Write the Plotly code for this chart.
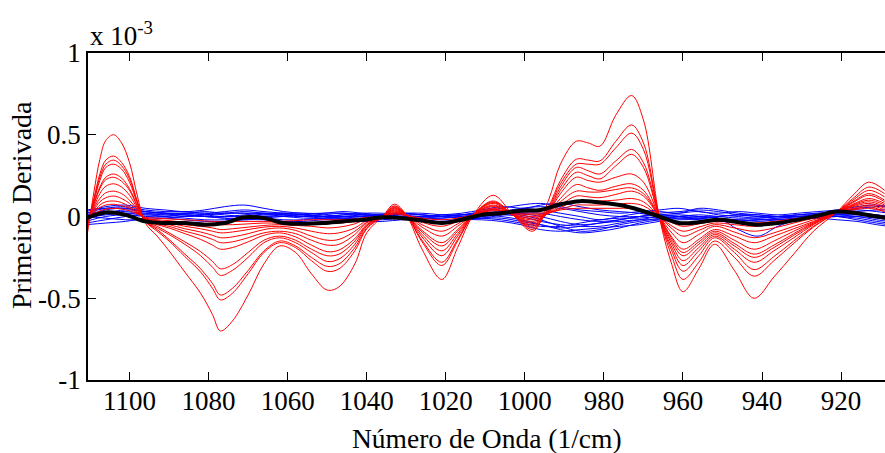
import plotly.graph_objects as go

# wavenumber grid for red curves (1/cm)
x_red = [1111, 1109, 1107.5, 1106, 1104, 1102, 1100, 1098, 1096, 1093, 1090, 1086, 1082, 1079, 1077,
         1074, 1070, 1066, 1062, 1058, 1054, 1050, 1047, 1043, 1040, 1036, 1033, 1030, 1026, 1021,
         1017, 1013, 1008, 1003, 998, 994, 991, 987, 984, 981, 977, 973, 970, 966, 963, 960, 956,
         952, 947, 942, 937, 932, 927, 921, 917, 913, 909]

red_1 = [-0.16, 0.15, 0.35, 0.465, 0.50, 0.45, 0.33, 0.125, -0.04, -0.12, -0.21, -0.34, -0.47, -0.60, -0.70,
         -0.64, -0.48, -0.29, -0.18, -0.22, -0.35, -0.45, -0.43, -0.29, -0.10, 0.0, 0.075, 0.01, -0.20, -0.385,
         -0.19, 0.01, 0.13, 0.01, -0.09, 0.10, 0.32, 0.46, 0.45, 0.43, 0.62, 0.74, 0.59, 0.0, -0.28, -0.46, -0.32,
         -0.17, -0.33, -0.50, -0.37, -0.23, -0.09, 0.03, 0.13, 0.21, 0.16]
red_2 = [-0.10, 0.11, 0.26, 0.345, 0.37, 0.33, 0.245, 0.09, -0.03, -0.09, -0.15, -0.245, -0.34, -0.44, -0.51,
         -0.47, -0.35, -0.22, -0.16, -0.19, -0.27, -0.335, -0.32, -0.21, -0.075, 0.0, 0.065, 0.01, -0.155, -0.30,
         -0.15, 0.01, 0.095, 0.01, -0.08, 0.06, 0.22, 0.35, 0.345, 0.34, 0.46, 0.56, 0.45, 0.0, -0.23, -0.385, -0.28,
         -0.15, -0.25, -0.365, -0.27, -0.165, -0.065, 0.03, 0.11, 0.18, 0.14]
red_3 = [-0.08, 0.10, 0.24, 0.32, 0.345, 0.31, 0.23, 0.085, -0.03, -0.08, -0.14, -0.23, -0.32, -0.41, -0.48,
         -0.44, -0.33, -0.21, -0.15, -0.18, -0.25, -0.305, -0.29, -0.19, -0.07, 0.0, 0.06, 0.01, -0.145, -0.28,
         -0.14, 0.01, 0.09, 0.01, -0.07, 0.05, 0.20, 0.32, 0.32, 0.32, 0.42, 0.51, 0.41, 0.0, -0.20, -0.335, -0.24,
         -0.13, -0.22, -0.325, -0.245, -0.15, -0.06, 0.03, 0.10, 0.16, 0.12]
red_4 = [-0.07, 0.095, 0.22, 0.30, 0.32, 0.29, 0.21, 0.08, -0.03, -0.07, -0.11, -0.17, -0.24, -0.31, -0.36,
         -0.33, -0.25, -0.16, -0.13, -0.16, -0.22, -0.275, -0.26, -0.17, -0.06, 0.0, 0.055, 0.01, -0.125, -0.24,
         -0.12, 0.01, 0.085, 0.01, -0.06, 0.04, 0.18, 0.30, 0.28, 0.26, 0.34, 0.41, 0.33, 0.0, -0.18, -0.30, -0.21,
         -0.12, -0.20, -0.28, -0.21, -0.13, -0.05, 0.03, 0.09, 0.14, 0.10]
red_5 = [-0.06, 0.08, 0.18, 0.24, 0.26, 0.235, 0.17, 0.065, -0.03, -0.06, -0.10, -0.155, -0.215, -0.275, -0.32,
         -0.295, -0.22, -0.145, -0.12, -0.145, -0.20, -0.24, -0.23, -0.15, -0.055, 0.0, 0.05, 0.01, -0.11, -0.21,
         -0.105, 0.01, 0.08, 0.01, -0.05, 0.035, 0.16, 0.27, 0.25, 0.23, 0.31, 0.38, 0.30, 0.0, -0.16, -0.27, -0.19,
         -0.11, -0.18, -0.25, -0.19, -0.115, -0.045, 0.03, 0.085, 0.13, 0.09]
red_6 = [-0.05, 0.075, 0.17, 0.225, 0.24, 0.215, 0.16, 0.06, -0.025, -0.05, -0.07, -0.105, -0.14, -0.175, -0.20,
         -0.19, -0.155, -0.115, -0.10, -0.125, -0.175, -0.215, -0.205, -0.135, -0.05, 0.0, 0.045, 0.01, -0.095, -0.18,
         -0.09, 0.01, 0.07, 0.01, -0.04, 0.03, 0.14, 0.24, 0.22, 0.21, 0.24, 0.26, 0.21, 0.0, -0.145, -0.24, -0.17,
         -0.10, -0.165, -0.23, -0.175, -0.105, -0.04, 0.03, 0.075, 0.11, 0.08]
red_7 = [-0.05, 0.06, 0.14, 0.185, 0.20, 0.18, 0.13, 0.05, -0.02, -0.045, -0.06, -0.09, -0.115, -0.14, -0.16,
         -0.155, -0.13, -0.10, -0.09, -0.105, -0.145, -0.175, -0.17, -0.11, -0.04, 0.0, 0.04, 0.01, -0.085, -0.16,
         -0.08, 0.01, 0.065, 0.01, -0.03, 0.025, 0.11, 0.195, 0.175, 0.16, 0.185, 0.20, 0.16, 0.0, -0.13, -0.22, -0.155,
         -0.09, -0.145, -0.20, -0.15, -0.09, -0.035, 0.03, 0.07, 0.10, 0.07]
red_8 = [-0.04, 0.05, 0.11, 0.145, 0.155, 0.14, 0.10, 0.04, -0.02, -0.04, -0.05, -0.075, -0.095, -0.115, -0.13,
         -0.125, -0.105, -0.08, -0.07, -0.085, -0.12, -0.145, -0.14, -0.09, -0.035, 0.0, 0.035, 0.01, -0.065, -0.12,
         -0.06, 0.01, 0.06, 0.01, -0.02, 0.02, 0.09, 0.155, 0.15, 0.15, 0.165, 0.175, 0.14, 0.0, -0.12, -0.20, -0.14,
         -0.08, -0.12, -0.16, -0.12, -0.075, -0.03, 0.03, 0.065, 0.09, 0.06]
red_9 = [-0.03, 0.04, 0.09, 0.115, 0.125, 0.11, 0.08, 0.03, -0.015, -0.03, -0.04, -0.06, -0.075, -0.09, -0.10,
         -0.095, -0.08, -0.065, -0.06, -0.07, -0.09, -0.105, -0.10, -0.07, -0.025, 0.0, 0.03, 0.01, -0.05, -0.09,
         -0.045, 0.01, 0.05, 0.01, -0.01, 0.02, 0.07, 0.125, 0.12, 0.115, 0.135, 0.155, 0.125, 0.0, -0.095, -0.16, -0.11,
         -0.06, -0.095, -0.13, -0.10, -0.06, -0.02, 0.03, 0.06, 0.08, 0.05]
red_10 = [-0.02, 0.03, 0.07, 0.09, 0.095, 0.085, 0.06, 0.025, -0.01, -0.025, -0.035, -0.05, -0.06, -0.07, -0.08,
          -0.075, -0.065, -0.055, -0.05, -0.055, -0.06, -0.07, -0.065, -0.045, -0.015, 0.0, 0.025, 0.01, -0.035, -0.06,
          -0.03, 0.01, 0.045, 0.015, 0.0, 0.02, 0.055, 0.095, 0.095, 0.095, 0.10, 0.11, 0.09, 0.0, -0.07, -0.12, -0.085,
          -0.05, -0.07, -0.09, -0.07, -0.04, -0.01, 0.03, 0.05, 0.07, 0.04]
red_11 = [-0.02, 0.025, 0.055, 0.07, 0.075, 0.065, 0.05, 0.02, -0.01, -0.02, -0.025, -0.035, -0.04, -0.045, -0.05,
          -0.05, -0.045, -0.04, -0.04, -0.04, -0.04, -0.04, -0.04, -0.03, -0.01, 0.0, 0.02, 0.01, -0.02, -0.04,
          -0.02, 0.01, 0.04, 0.02, 0.01, 0.02, 0.045, 0.07, 0.07, 0.07, 0.075, 0.08, 0.065, 0.0, -0.055, -0.09, -0.065,
          -0.04, -0.05, -0.06, -0.045, -0.025, 0.0, 0.03, 0.045, 0.06, 0.03]
red_12 = [-0.01, 0.015, 0.035, 0.045, 0.05, 0.045, 0.035, 0.015, -0.005, -0.01, -0.015, -0.02, -0.025, -0.03, -0.03,
          -0.03, -0.03, -0.03, -0.03, -0.025, -0.02, -0.02, -0.02, -0.015, -0.005, 0.0, 0.015, 0.005, -0.01, -0.02,
          -0.01, 0.01, 0.035, 0.025, 0.02, 0.025, 0.04, 0.05, 0.05, 0.05, 0.05, 0.05, 0.04, 0.0, -0.035, -0.06, -0.045,
          -0.03, -0.035, -0.04, -0.03, -0.015, 0.0, 0.03, 0.04, 0.05, 0.03]

# wavenumber grid for blue curves and the mean (black)
x_blue = [1111, 1106, 1101, 1096, 1091, 1086, 1081, 1076, 1071, 1066, 1061, 1056, 1051, 1046, 1041, 1036,
          1031, 1026, 1021, 1016, 1011, 1006, 1001, 996, 991, 986, 981, 976, 971, 966, 961, 956, 951,
          946, 941, 936, 931, 926, 921, 916, 911, 908]

blue_1 = [0.03, 0.06, 0.07, 0.05, 0.04, 0.03, 0.04, 0.06, 0.07, 0.05, 0.03, 0.02, 0.02, 0.03, 0.02, 0.01, 0.02,
          0.01, 0.0, 0.01, 0.03, 0.05, 0.07, 0.08, 0.06, 0.04, 0.03, 0.02, 0.03, 0.04, 0.05, 0.03, 0.02, 0.03,
          0.02, 0.01, 0.02, 0.03, 0.04, 0.06, 0.07, 0.05]
blue_2 = [0.02, 0.05, 0.06, 0.04, 0.03, 0.03, 0.02, 0.03, 0.04, 0.03, 0.02, 0.01, 0.0, 0.01, 0.02, 0.02, 0.01,
          0.0, 0.01, 0.02, 0.04, 0.06, 0.05, 0.04, 0.02, 0.0, -0.02, 0.0, 0.02, 0.03, 0.02, 0.05, 0.04, 0.02,
          0.01, 0.0, 0.01, 0.02, 0.02, 0.03, 0.04, 0.04]
blue_3 = [0.0, 0.04, 0.05, 0.03, 0.02, 0.02, 0.03, 0.02, 0.02, 0.01, 0.01, 0.0, 0.01, 0.02, 0.01, 0.0, 0.0,
          -0.01, -0.01, 0.0, 0.02, 0.03, 0.02, 0.0, -0.03, -0.05, -0.04, -0.02, 0.0, 0.01, 0.02, 0.03, 0.01,
          0.0, -0.01, 0.0, 0.0, 0.01, 0.02, 0.02, 0.01, 0.0]
blue_4 = [-0.02, 0.02, 0.04, 0.03, 0.02, 0.01, 0.01, 0.02, 0.03, 0.02, 0.01, 0.01, 0.02, 0.02, 0.01, 0.0, -0.01,
          -0.01, 0.0, 0.01, 0.02, 0.02, 0.01, -0.02, -0.06, -0.09, -0.08, -0.05, -0.03, -0.01, 0.0, 0.01, 0.0,
          -0.01, -0.01, 0.0, 0.01, 0.01, 0.01, 0.0, -0.02, -0.03]
blue_5 = [0.01, 0.03, 0.03, 0.02, 0.01, 0.02, 0.02, 0.01, 0.0, 0.0, 0.01, 0.01, 0.0, 0.0, 0.01, 0.01, 0.0,
          0.0, 0.01, 0.01, 0.01, 0.0, -0.02, -0.05, -0.08, -0.10, -0.09, -0.07, -0.04, -0.02, 0.0, 0.0, -0.01,
          -0.08, -0.12, -0.06, -0.02, 0.0, 0.01, 0.01, 0.0, -0.01]
blue_6 = [-0.03, 0.0, 0.01, 0.0, 0.0, 0.01, 0.0, -0.01, -0.01, 0.0, 0.0, -0.01, -0.01, 0.0, 0.0, -0.01, -0.01,
          0.0, 0.0, -0.01, 0.0, 0.01, 0.0, -0.03, -0.05, -0.06, -0.06, -0.04, -0.02, 0.0, 0.01, 0.0, -0.01,
          -0.02, -0.02, -0.01, 0.0, 0.0, 0.0, -0.01, -0.03, -0.04]
blue_7 = [-0.04, -0.02, 0.0, 0.01, 0.0, -0.01, -0.02, -0.02, -0.01, -0.01, -0.02, -0.02, -0.01, -0.01, -0.02,
          -0.02, -0.01, -0.01, -0.02, -0.02, -0.01, -0.01, -0.03, -0.05, -0.07, -0.06, -0.04, -0.03, -0.02,
          -0.02, -0.01, -0.01, -0.02, -0.02, -0.03, -0.02, -0.01, 0.0, 0.0, -0.02, -0.04, -0.05]
blue_8 = [-0.05, -0.04, -0.03, -0.01, -0.01, -0.02, -0.03, -0.03, -0.02, -0.02, -0.03, -0.03, -0.02, -0.02,
          -0.03, -0.03, -0.02, -0.02, -0.03, -0.02, -0.02, -0.03, -0.05, -0.08, -0.09, -0.08, -0.07, -0.06,
          -0.05, -0.03, -0.02, -0.02, -0.03, -0.03, -0.02, -0.02, -0.01, -0.01, -0.02, -0.03, -0.05, -0.06]
blue_9 = [0.02, 0.03, 0.02, 0.01, 0.01, 0.0, 0.01, 0.02, 0.02, 0.02, 0.01, 0.0, 0.0, 0.01, 0.01, 0.01, 0.02,
          0.01, 0.0, 0.01, 0.02, 0.03, 0.05, 0.06, 0.05, 0.03, 0.01, 0.0, 0.0, 0.01, 0.0, -0.01, 0.0, 0.01,
          0.0, -0.01, 0.0, 0.01, 0.03, 0.05, 0.06, 0.07]
blue_10 = [0.04, 0.05, 0.05, 0.03, 0.02, 0.02, 0.01, 0.0, 0.01, 0.02, 0.02, 0.02, 0.01, 0.0, 0.0, 0.01, 0.02,
           0.02, 0.01, 0.0, 0.0, 0.01, 0.02, 0.02, 0.0, -0.02, -0.03, -0.02, 0.0, 0.02, 0.03, 0.04, 0.03,
           0.01, 0.0, 0.0, 0.01, 0.02, 0.03, 0.04, 0.03, 0.02]
blue_11 = [-0.01, 0.01, 0.02, 0.02, 0.02, 0.01, 0.0, 0.0, 0.0, 0.01, 0.02, 0.01, 0.0, -0.01, -0.01, 0.0, 0.01,
           0.01, 0.0, -0.01, -0.01, 0.01, 0.04, 0.07, 0.08, 0.06, 0.04, 0.03, 0.02, 0.0, -0.01, -0.01, 0.0,
           0.01, 0.01, 0.0, -0.01, 0.0, 0.01, 0.02, 0.01, 0.0]
blue_12 = [0.0, -0.01, -0.02, -0.02, -0.01, 0.0, 0.0, -0.01, -0.02, -0.01, 0.0, 0.0, -0.01, -0.01, 0.0, 0.0,
           -0.01, -0.01, -0.01, 0.0, -0.01, -0.02, -0.04, -0.06, -0.06, -0.04, -0.02, -0.01, -0.01, 0.0, 0.0,
           -0.02, -0.03, -0.03, -0.02, -0.02, -0.02, -0.01, 0.0, 0.0, -0.01, -0.02]

mean_black = [-0.01, 0.025, 0.01, -0.03, -0.04, -0.04, -0.05, -0.04, -0.005, -0.01, -0.04, -0.045, -0.04,
              -0.03, -0.02, -0.005, -0.01, -0.025, -0.04, -0.02, 0.01, 0.02, 0.035, 0.04, 0.075, 0.094, 0.085,
              0.07, 0.04, 0.0, -0.04, -0.035, -0.02, -0.035, -0.05, -0.04, -0.02, 0.005, 0.03, 0.02, 0.0, -0.01]

x_ticks = [1100, 1080, 1060, 1040, 1020, 1000, 980, 960, 940, 920]
y_ticks = [-1, -0.5, 0, 0.5, 1]
y_tick_text = ["-1", "-0.5", "0", "0.5", "1"]

reds = [red_1, red_2, red_3, red_4, red_5, red_6, red_7, red_8, red_9, red_10, red_11, red_12]
blues = [blue_1, blue_2, blue_3, blue_4, blue_5, blue_6, blue_7, blue_8, blue_9, blue_10, blue_11, blue_12]

FONT = "Liberation Serif, Times New Roman, serif"
fig = go.Figure()
for b in blues:
    fig.add_trace(go.Scatter(x=x_blue, y=b, mode="lines",
                             line=dict(color="#0000ff", width=1, shape="spline", smoothing=1.0),
                             showlegend=False, hoverinfo="skip"))
for r in reds:
    fig.add_trace(go.Scatter(x=x_red, y=r, mode="lines",
                             line=dict(color="#ff0000", width=1, shape="spline", smoothing=1.0),
                             showlegend=False, hoverinfo="skip"))
fig.add_trace(go.Scatter(x=x_blue, y=mean_black, mode="lines",
                         line=dict(color="#000000", width=4, shape="spline", smoothing=1.0),
                         showlegend=False, hoverinfo="skip"))

fig.update_layout(
    width=885, height=453,
    margin=dict(l=88, r=0, t=53, b=73),
    paper_bgcolor="white", plot_bgcolor="white",
    font=dict(family=FONT, size=27, color="black"),
    xaxis=dict(range=[1110.5, 908.9], tickvals=x_ticks, ticktext=[str(v) for v in x_ticks],
               ticks="inside", ticklen=8, tickwidth=1, tickcolor="black",
               showline=True, linecolor="black", linewidth=1.5, mirror="ticks",
               showgrid=False, zeroline=False, tickfont=dict(size=27), ticklabelstandoff=-4),
    yaxis=dict(range=[-1, 1], tickvals=y_ticks, ticktext=y_tick_text,
               ticks="inside", ticklen=8, tickwidth=1, tickcolor="black",
               showline=True, linecolor="black", linewidth=1.5, mirror=False,
               showgrid=False, zeroline=False, tickfont=dict(size=27)),
    annotations=[
        dict(text="Número de Onda (1/cm)", xref="paper", yref="paper", x=0.501, y=-0.18,
             xanchor="center", yanchor="middle", showarrow=False, font=dict(size=27.5)),
        dict(text="Primeiro Derivada", xref="paper", yref="paper", x=-0.084, y=0.535,
             xanchor="center", yanchor="middle", textangle=-90, showarrow=False, font=dict(size=28)),
        dict(text="x 10<sup>-3</sup>", xref="paper", yref="paper", x=0.0, y=1.0,
             xanchor="left", yanchor="bottom", showarrow=False, font=dict(size=27)),
    ],
)

fig.write_html("out.html")
